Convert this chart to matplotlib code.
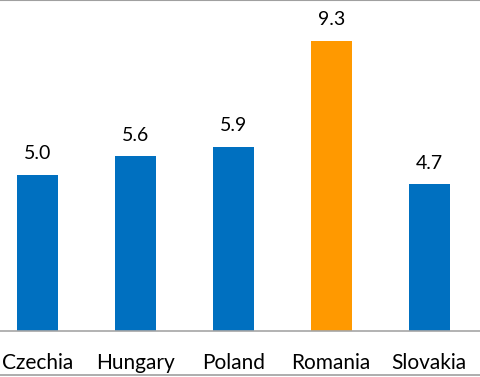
import matplotlib.pyplot as plt
from matplotlib.lines import Line2D

countries = ['Czechia', 'Hungary', 'Poland', 'Romania', 'Slovakia']
values = [5.0, 5.6, 5.9, 9.3, 4.7]
colors = ['#0070C0', '#0070C0', '#0070C0', '#FF9900', '#0070C0']

plt.rcParams['font.family'] = ['Lato', 'DejaVu Sans']

fig = plt.figure(figsize=(4.8, 3.77), dpi=100)
ax = fig.add_axes([0, 46 / 377, 1, 331 / 377])

x = range(len(countries))
ax.bar(x, values, width=0.42, color=colors)
for i, v in zip(x, values):
    ax.text(i, v + 0.4, f'{v:.1f}', ha='center', va='bottom', fontsize=14)

ax.set_xlim(-0.383, 4.52)
ax.set_ylim(0, 10.6)
ax.set_xticks(list(x))
ax.set_xticklabels(countries, fontsize=15)
ax.tick_params(axis='x', length=0, pad=16)
ax.set_yticks([])
for s in ['top', 'left', 'right']:
    ax.spines[s].set_visible(False)
ax.spines['bottom'].set_color('#A6A6A6')
ax.spines['bottom'].set_linewidth(1.2)

# frame lines at top and bottom of the picture
fig.add_artist(Line2D([0, 1], [0.999, 0.999], color='#A0A0A0', lw=1.5))
fig.add_artist(Line2D([0, 1], [0.005, 0.005], color='#A0A0A0', lw=1.2))

fig.savefig('out.png', dpi=100)
